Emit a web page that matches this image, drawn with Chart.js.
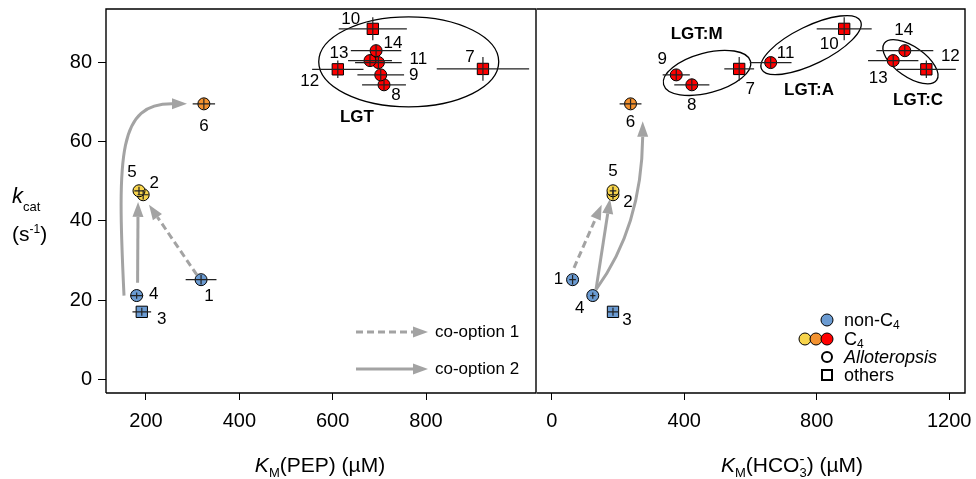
<!DOCTYPE html>
<html>
<head>
<meta charset="utf-8">
<script src="https://cdn.jsdelivr.net/npm/chart.js@4.4.1/dist/chart.umd.min.js"></script>
<style>
  body { margin: 0; background: #fff; }
  #wrap { position: relative; width: 976px; height: 479px; }
  canvas { position: absolute; top: 0; }
  #pepChart { left: 0; }
  #hco3Chart { left: 536px; }
</style>
</head>
<body>
<div id="wrap">
  <canvas id="pepChart" width="537" height="479"></canvas>
  <canvas id="hco3Chart" width="440" height="479"></canvas>
</div>
<script>
// enzyme data
const pointIds = ['1', '2', '3', '4', '5', '6', '7', '8', '9', '10', '11', '12', '13', '14'];
const kcat = [25.2, 46.6, 17.1, 21.2, 47.6, 69.5, 78.3, 74.3, 76.8, 88.4, 79.9, 78.2, 80.4, 82.9];
const kcatErr = [1.2, 1.2, 1.0, 0.8, 1.0, 1.3, 3.0, 1.5, 1.5, 2.9, 1.5, 2.2, 1.5, 1.5];
const kmPep = [318, 194, 191, 180, 185, 324, 922, 710, 703, 686, 698, 611, 680, 693];
const kmPepErr = [33, 12, 20, 14, 10, 24, 99, 47, 50, 73, 50, 55, 47, 54];
const kmHco3 = [63, 185, 185, 124, 185, 238, 566, 423, 376, 883, 661, 1131, 1031, 1066];
const kmHco3Err = [10, 12, 18, 8, 10, 33, 45, 53, 41, 83, 63, 89, 76, 86];
const groupType = ['nonC4', 'C4a', 'nonC4', 'nonC4', 'C4a', 'C4b', 'C4c', 'C4c', 'C4c', 'C4c', 'C4c', 'C4c', 'C4c', 'C4c'];
const lineage = ['Allo', 'Allo', 'other', 'Allo', 'Allo', 'Allo', 'other', 'Allo', 'Allo', 'other', 'Allo', 'other', 'Allo', 'Allo'];

const yTicks = [0, 20, 40, 60, 80];
const pepTicks = [200, 400, 600, 800];
const hco3Ticks = [0, 400, 800, 1200];

const FF = '"Liberation Sans", Arial, sans-serif';
const groupColors = { nonC4: '#6b9bd2', C4a: '#f7d44c', C4b: '#f39230', C4c: '#ff0000' };
const arrowGrey = '#a3a3a3';

function pointData(xs, ys) {
    return xs.map((x, i) => ({ x: x, y: ys[i] }));
}

function drawRich(ctx, parts, x, y, align) {
    let w = 0;
    parts.forEach(p => { if (!p[3]) { ctx.font = p[1]; w += ctx.measureText(p[0]).width; } });
    let cx = align === 'center' ? x - w / 2 : x;
    ctx.textAlign = 'left';
    ctx.textBaseline = 'alphabetic';
    parts.forEach(p => {
        ctx.font = p[1];
        ctx.fillText(p[0], cx, y + (p[2] || 0));
        if (!p[3]) cx += ctx.measureText(p[0]).width;
    });
}

function arrowHead(ctx, bx, by, tx, ty) {
    const dx = tx - bx, dy = ty - by, len = Math.hypot(dx, dy);
    const nx = -dy / len * 5.5, ny = dx / len * 5.5;
    ctx.setLineDash([]);
    ctx.beginPath();
    ctx.moveTo(tx, ty);
    ctx.lineTo(bx + nx, by + ny);
    ctx.lineTo(bx - nx, by - ny);
    ctx.closePath();
    ctx.fill();
}

// pts: [start, tip] or [p0, c1, c2, p3, tip]
function drawArrow(ctx, pts, dashed) {
    ctx.strokeStyle = arrowGrey;
    ctx.fillStyle = arrowGrey;
    ctx.lineWidth = 3;
    ctx.setLineDash(dashed ? [7, 4] : []);
    ctx.beginPath();
    ctx.moveTo(pts[0][0], pts[0][1]);
    let base, tip = pts[pts.length - 1];
    if (pts.length === 2) {
        const dx = tip[0] - pts[0][0], dy = tip[1] - pts[0][1], len = Math.hypot(dx, dy);
        base = [tip[0] - dx / len * 15, tip[1] - dy / len * 15];
        ctx.lineTo(base[0], base[1]);
    } else {
        base = pts[3];
        ctx.bezierCurveTo(pts[1][0], pts[1][1], pts[2][0], pts[2][1], base[0], base[1]);
    }
    ctx.stroke();
    arrowHead(ctx, base[0], base[1], tip[0], tip[1]);
}

const decor = {
    id: 'decor',
    beforeDatasetsDraw(chart, args, opts) {
        const ctx = chart.ctx, xs = chart.scales.x, ys = chart.scales.y;
        ctx.save();
        ctx.strokeStyle = '#000';
        ctx.lineWidth = 1.3;
        opts.ellipses.forEach(e => {
            ctx.beginPath();
            ctx.ellipse(xs.getPixelForValue(e.x), ys.getPixelForValue(e.y), e.rx, e.ry, e.rot * Math.PI / 180, 0, 2 * Math.PI);
            ctx.stroke();
        });
        ctx.restore();
    },
    afterDatasetsDraw(chart, args, opts) {
        const ctx = chart.ctx, xs = chart.scales.x, ys = chart.scales.y;
        const px = v => xs.getPixelForValue(v), py = v => ys.getPixelForValue(v);
        const area = chart.chartArea;
        ctx.save();

        // error bars
        ctx.strokeStyle = '#222';
        ctx.lineWidth = 1.2;
        opts.xv.forEach((x, i) => {
            const y = kcat[i];
            ctx.beginPath();
            ctx.moveTo(px(x - opts.xe[i]), py(y));
            ctx.lineTo(px(x + opts.xe[i]), py(y));
            ctx.moveTo(px(x), py(y - kcatErr[i]));
            ctx.lineTo(px(x), py(y + kcatErr[i]));
            ctx.stroke();
        });

        // arrows
        opts.arrows.forEach(a => drawArrow(ctx, a.pts.map(p => [px(p[0]), py(p[1])]), a.dashed));

        // point numbers and group labels
        ctx.fillStyle = '#000';
        ctx.textAlign = 'center';
        ctx.textBaseline = 'middle';
        ctx.font = '17px ' + FF;
        pointIds.forEach((id, i) => {
            const o = opts.labelOffsets[i];
            ctx.fillText(id, px(opts.xv[i]) + o[0], py(kcat[i]) + o[1]);
        });
        ctx.font = 'bold 17px ' + FF;
        opts.texts.forEach(t => ctx.fillText(t.text, px(t.x), py(t.y)));

        // frame
        ctx.strokeStyle = '#000';
        ctx.lineWidth = 1.4;
        ctx.beginPath();
        if (opts.leftEdge) {
            ctx.moveTo(area.left, area.bottom);
            ctx.lineTo(area.left, area.top);
        } else {
            ctx.moveTo(area.left, area.top);
        }
        ctx.lineTo(area.right, area.top);
        ctx.lineTo(area.right, area.bottom);
        ctx.lineTo(area.left, area.bottom);
        ctx.stroke();

        opts.extra(ctx, area);
        ctx.restore();
    }
};

function fixTicks(values) {
    return function (scale) {
        scale.ticks = values.map(v => ({ value: v }));
    };
}

function fixSize(prop, size) {
    return function (scale) {
        scale[prop] = size;
        scale.paddingLeft = 0;
        scale.paddingRight = 0;
        scale.paddingTop = 0;
        scale.paddingBottom = 0;
    };
}

function makeScatter(canvasId, xv, xe, xTicks, xMin, xMax, showY, padding, decorOpts) {
    const chartData = {
        datasets: [{
            data: pointData(xv, kcat),
            pointBackgroundColor: groupType.map(g => groupColors[g]),
            pointBorderColor: '#000',
            pointBorderWidth: 1,
            pointStyle: lineage.map(s => s === 'other' ? 'rect' : 'circle'),
            pointRadius: lineage.map(s => s === 'other' ? 8 : 6),
            pointHoverRadius: lineage.map(s => s === 'other' ? 8 : 6),
            showLine: false
        }]
    };

    const config = {
        type: 'scatter',
        data: chartData,
        options: {
            responsive: false,
            animation: false,
            layout: { padding: padding, autoPadding: false },
            plugins: {
                legend: { display: false },
                tooltip: { enabled: false },
                decor: Object.assign({ xv: xv, xe: xe }, decorOpts)
            },
            scales: {
                x: {
                    type: 'linear',
                    min: xMin,
                    max: xMax,
                    afterBuildTicks: fixTicks(xTicks),
                    afterFit: fixSize('height', 86),
                    border: { display: false },
                    grid: { drawOnChartArea: false, drawTicks: true, tickLength: 7, color: '#000' },
                    ticks: {
                        color: '#000', padding: 9, maxRotation: 0, font: { family: FF, size: 20 },
                        callback: v => String(v)
                    }
                },
                y: {
                    type: 'linear',
                    display: showY,
                    min: -3.35,
                    max: 93.4,
                    afterBuildTicks: fixTicks(yTicks),
                    afterFit: fixSize('width', showY ? 106 : 0),
                    border: { display: false },
                    grid: { drawOnChartArea: false, drawTicks: true, tickLength: 8, color: '#000' },
                    ticks: { color: '#000', padding: 6, font: { family: FF, size: 20 } }
                }
            }
        },
        plugins: [decor]
    };

    return new Chart(document.getElementById(canvasId), config);
}

// left panel: K_M(PEP)
makeScatter('pepChart', kmPep, kmPepErr, pepTicks, 114.3, 1035.7, true,
    { top: 9, right: 1, left: 0, bottom: 0 },
    {
        leftEdge: true,
        ellipses: [{ x: 763, y: 80.1, rx: 90, ry: 45, rot: 0 }],
        texts: [{ text: 'LGT', x: 652, y: 66 }],
        arrows: [
            { pts: [[309, 26.4], [206.4, 44.1]], dashed: true },
            { pts: [[182, 24.4], [183, 44.8]] },
            { pts: [[152.9, 21.2], [137.9, 57.9], [142.1, 69.5], [255.7, 69.5], [287.9, 69.5]] }
        ],
        labelOffsets: [[8, 17], [11, -11], [20, 7], [17, -1], [-7, -18], [0, 22], [-13, -12],
            [12, 11], [33, 0], [-22, -10], [40, -3], [-28, 12], [-31, -7], [17, -7]],
        extra: function (ctx, area) {
            ctx.fillStyle = '#000';
            drawRich(ctx, [['K', 'italic 21px ' + FF], ['M', '13px ' + FF, 5], ['(PEP) (µM)', '21px ' + FF]], 320, 472, 'center');
            drawRich(ctx, [['k', 'italic 22px ' + FF], ['cat', '13px ' + FF, 8]], 12, 203, 'left');
            drawRich(ctx, [['(s', '21px ' + FF], ['-1', '12px ' + FF, -8], [')', '21px ' + FF]], 12, 241, 'left');
            // co-option legend
            const rows = [area.bottom - 61, area.bottom - 24];
            rows.forEach((y, i) => {
                drawArrow(ctx, [[area.right - 180, y], [area.right - 108, y]], i === 0);
                ctx.fillStyle = '#000';
                ctx.font = '17px ' + FF;
                ctx.textAlign = 'left';
                ctx.textBaseline = 'middle';
                ctx.fillText('co-option ' + (i + 1), area.right - 101, y);
            });
        }
    });

// right panel: K_M(HCO3-)
makeScatter('hco3Chart', kmHco3, kmHco3Err, hco3Ticks, -44.4, 1247.7, false,
    { top: 9, right: 11, left: 1, bottom: 0 },
    {
        leftEdge: false,
        ellipses: [
            { x: 469, y: 77.3, rx: 45, ry: 20, rot: -15 },
            { x: 783, y: 84.3, rx: 55, ry: 19, rot: -26 },
            { x: 1083, y: 80.1, rx: 32, ry: 15, rot: 35 }
        ],
        texts: [
            { text: 'LGT:M', x: 437.7, y: 86.9 },
            { text: 'LGT:A', x: 776.8, y: 73.0 },
            { text: 'LGT:C', x: 1106, y: 70.4 }
        ],
        arrows: [
            { pts: [[67.3, 28.2], [151, 44.1]], dashed: true },
            { pts: [[133.7, 22.7], [176, 45.6]] },
            { pts: [[133.7, 22.7], [221.3, 32.7], [272.6, 45.3], [274.7, 61.2], [274.7, 65.1]] }
        ],
        labelOffsets: [[-14, 0], [15, 8], [14, 8], [-13, 13], [0, -19], [0, 18], [11, 20],
            [0, 21], [-14, -16], [-15, 15], [15, -9], [24, -13], [-15, 18], [-1, -20]],
        extra: function (ctx, area) {
            ctx.fillStyle = '#000';
            drawRich(ctx, [['K', 'italic 21px ' + FF], ['M', '13px ' + FF, 5], ['(HCO', '21px ' + FF],
                ['-', '15px ' + FF, -8, true], ['3', '13px ' + FF, 5], [') (µM)', '21px ' + FF]], 256, 472, 'center');

            // symbol legend
            const cx = area.right - 138, tx = area.right - 121;
            const rows = [area.bottom - 73, area.bottom - 54, area.bottom - 36, area.bottom - 18];
            ctx.strokeStyle = '#000';
            ctx.lineWidth = 1;
            const dot = (x, y, c) => {
                ctx.beginPath();
                ctx.arc(x, y, 6, 0, 2 * Math.PI);
                ctx.fillStyle = c;
                ctx.fill();
                ctx.stroke();
            };
            dot(cx, rows[0], groupColors.nonC4);
            dot(cx - 22, rows[1], groupColors.C4a);
            dot(cx - 11, rows[1], groupColors.C4b);
            dot(cx, rows[1], groupColors.C4c);
            ctx.lineWidth = 2;
            ctx.beginPath();
            ctx.arc(cx, rows[2], 5, 0, 2 * Math.PI);
            ctx.stroke();
            ctx.strokeRect(cx - 5, rows[3] - 5, 10, 10);

            ctx.fillStyle = '#000';
            drawRich(ctx, [['non-C', '18px ' + FF], ['4', '12px ' + FF, 3]], tx, rows[0] + 6, 'left');
            drawRich(ctx, [['C', '18px ' + FF], ['4', '12px ' + FF, 3]], tx, rows[1] + 6, 'left');
            drawRich(ctx, [['Alloteropsis', 'italic 18px ' + FF]], tx, rows[2] + 6, 'left');
            drawRich(ctx, [['others', '18px ' + FF]], tx, rows[3] + 6, 'left');
        }
    });
</script>
</body>
</html>
